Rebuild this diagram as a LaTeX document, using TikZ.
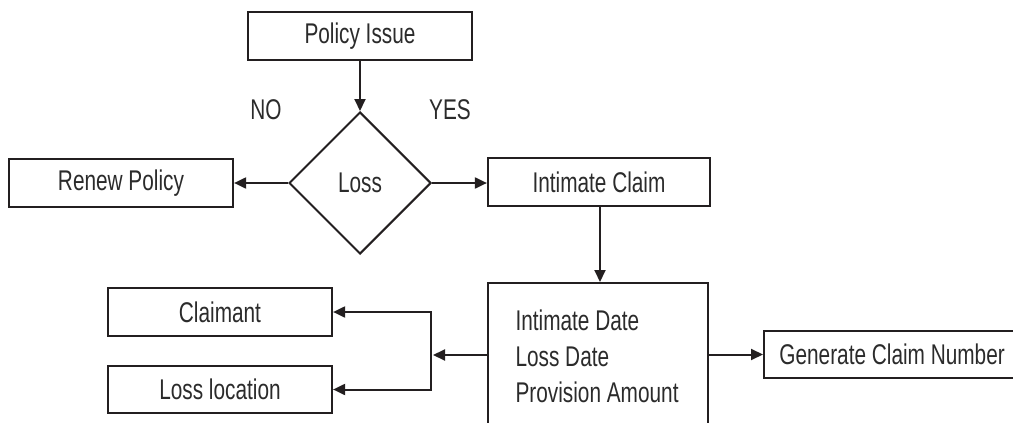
\documentclass[tikz,border=0pt]{standalone}
\usepackage{fontspec}
\setmainfont{Liberation Sans}[FakeStretch=0.73]
\usetikzlibrary{arrows.meta,shapes.geometric}
\definecolor{ink}{HTML}{231F20}
\definecolor{txt}{HTML}{2B2B2B}
\begin{document}
\begin{tikzpicture}[x=1pt,y=-1pt,
  every node/.style={font=\fontsize{28.5}{36}\selectfont, text=txt},
  box/.style={draw=ink, line width=2.2pt, rectangle, inner sep=0pt},
  decision/.style={draw=ink, line width=2pt, diamond, aspect=1, inner sep=0pt, minimum size=142pt},
  flow/.style={draw=ink, line width=2pt, -{Triangle[length=12pt,width=11pt]}}]
\useasboundingbox (0,0) rectangle (1013,423);
\clip (0,0) rectangle (1013,423);

% main decision path
\node[box, minimum width=224pt, minimum height=48pt] (issue) at (360,36) {Policy Issue};
\node[decision] (loss) at (360,183) {Loss};
\node[box, minimum width=224pt, minimum height=48pt] (renew) at (121,183) {Renew Policy};
\node[box, minimum width=222pt, minimum height=48pt] (intimate) at (599,182) {Intimate Claim};
\node (no) at (266,110) {NO};
\node (yes) at (450,110) {YES};

% claim details
\node[box, minimum width=220pt, minimum height=170pt, anchor=north west] (details) at (487,282) {};
\node[anchor=west, align=left] (fields) at (512,356) {Intimate Date\\Loss Date\\Provision Amount};
\node[box, minimum width=256pt, minimum height=47pt, anchor=west] (number) at (763,354.5) {Generate Claim Number};
\node[box, minimum width=224pt, minimum height=48pt] (claimant) at (220,312) {Claimant};
\node[box, minimum width=224pt, minimum height=47pt] (lossloc) at (220,389.5) {Loss location};
\coordinate (junc) at (431,355);

% connectors
\draw[flow] (issue) -- (loss.north);
\draw[flow] (loss.west) -- (loss.west -| renew.east);
\draw[flow] (loss.east) -- (loss.east -| intimate.west);
\draw[flow] (intimate.south -| 600,0) -- (details.north -| 600,0);
\draw[flow] (details.west |- junc) -- ([xshift=2pt]junc);
\draw[flow] (junc) |- (claimant.east);
\draw[flow] (junc) |- (lossloc.east);
\draw[flow] (details.east |- number.west) -- (number.west);
\end{tikzpicture}
\end{document}
